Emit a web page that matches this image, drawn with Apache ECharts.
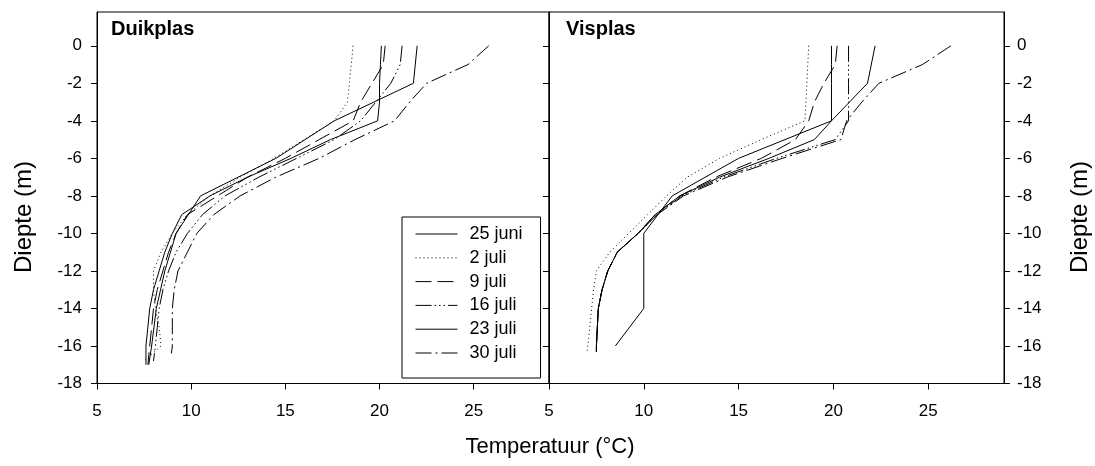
<!DOCTYPE html>
<html>
<head>
<meta charset="utf-8">
<script src="https://cdn.jsdelivr.net/npm/echarts@6.0.0/dist/echarts.min.js"></script>
<style>
html,body{margin:0;padding:0;background:#fff;}
#c{width:1095px;height:466px;}
</style>
</head>
<body>
<div id="c"></div>
<script>
// ---- tick labels ----
const xTicks = [5, 10, 15, 20, 25];
const yTicks = [0, -2, -4, -6, -8, -10, -12, -14, -16, -18];

// ---- series names ----
const dates = ['25 juni', '2 juli', '9 juli', '16 juli', '23 juli', '30 juli'];

// ---- Duikplas (depth m, temperature °C) ----
const duik25junD = [0, -2, -4, -6, -8, -10, -12, -14, -16, -17];
const duik25junT = [22.0, 21.8, 17.6, 14.5, 10.5, 9.2, 8.6, 8.15, 7.9, 7.75];

const duik2julD = [0, -1, -2, -3, -4, -5, -6, -7, -8, -9, -10, -11, -12, -13, -14, -15, -16, -16.8];
const duik2julT = [18.6, 18.5, 18.4, 18.3, 17.6, 16.0, 14.4, 12.6, 11.0, 9.8, 9.0, 8.4, 8.0, 8.0, 8.1, 8.3, 8.4, 7.5];

const duik9julD = [0, -1, -2, -3, -4, -5, -6, -7, -8, -9, -10, -11, -12, -13, -14, -15, -16, -17];
const duik9julT = [20.3, 20.2, 19.6, 19.0, 18.6, 16.8, 15.0, 13.0, 11.4, 9.8, 9.2, 8.8, 8.5, 8.2, 8.0, 7.9, 7.8, 7.7];

const duik16julD = [0, -1, -2, -3, -4, -5, -6, -7, -8, -9, -10, -11, -12, -13, -14, -15, -16, -16.8];
const duik16julT = [21.2, 21.1, 20.6, 19.8, 19.0, 17.6, 15.6, 13.6, 11.8, 10.6, 9.8, 9.2, 8.8, 8.5, 8.3, 8.2, 8.1, 8.0];

const duik23julD = [0, -1, -2, -3, -4, -5, -6, -7, -8, -9, -10, -11, -12, -13, -14, -15, -16, -17];
const duik23julT = [20.1, 20.05, 20.0, 20.0, 19.9, 17.4, 15.3, 13.0, 11.0, 9.5, 9.0, 8.6, 8.3, 8.0, 7.8, 7.7, 7.6, 7.6];

const duik30julD = [0, -1, -2, -3, -4, -5, -6, -7, -8, -9, -10, -11, -12, -13, -14, -15, -16, -16.4];
const duik30julT = [25.8, 24.7, 22.5, 21.6, 20.8, 18.7, 16.8, 14.5, 12.6, 11.2, 10.3, 9.8, 9.3, 9.1, 9.0, 9.0, 9.0, 8.95];

// ---- Visplas ----
const vis25junD = [0, -2, -4, -6, -8, -10, -12, -14, -16];
const vis25junT = [22.2, 21.8, 19.9, 15.0, 11.5, 10.0, 10.0, 10.0, 8.5];

const vis2julD = [0, -1, -2, -3, -4, -5, -6, -7, -8, -9, -10, -11, -12, -13, -14, -15, -16, -16.3];
const vis2julT = [18.7, 18.65, 18.6, 18.55, 18.5, 16.2, 14.0, 12.3, 11.2, 10.2, 9.2, 8.2, 7.5, 7.35, 7.25, 7.15, 7.05, 7.0];

const vis9julD = [0, -1, -2, -3, -4, -5, -6, -7, -8, -9, -10, -11, -12, -13, -14, -15, -16, -16.3];
const vis9julT = [20.2, 20.1, 19.5, 19.0, 18.7, 18.0, 16.2, 13.8, 11.9, 10.6, 9.7, 8.6, 8.1, 7.8, 7.6, 7.55, 7.5, 7.5];

const vis16julD = [0, -1, -2, -3, -4, -5, -6, -7, -8, -9, -10, -11, -12, -13, -14, -15, -16, -16.3];
const vis16julT = [20.8, 20.8, 20.8, 20.8, 20.8, 20.1, 17.0, 14.2, 12.0, 10.7, 9.7, 8.6, 8.1, 7.8, 7.6, 7.55, 7.5, 7.5];

const vis23julD = [0, -1, -2, -3, -4, -5, -6, -7, -8, -9, -10, -11, -12, -13, -14, -15, -16, -16.3];
const vis23julT = [19.9, 19.9, 19.9, 19.9, 19.9, 19.0, 16.6, 14.0, 11.9, 10.6, 9.7, 8.6, 8.1, 7.8, 7.6, 7.55, 7.5, 7.5];

const vis30julD = [0, -1, -2, -3, -4, -5, -6, -7, -8, -9, -10, -11, -12, -13, -14, -15, -16, -16.3];
const vis30julT = [26.2, 24.7, 22.4, 21.5, 20.7, 20.4, 17.3, 14.4, 12.1, 10.7, 9.7, 8.6, 8.1, 7.8, 7.6, 7.55, 7.5, 7.5];

// ---- styles ----
const dashPatterns = ['solid', [1, 3], [16, 6], [16, 3, 1.5, 3, 1.5, 3, 1.5, 3], 'solid', [16, 4, 2, 4]];
const FONT = '"Liberation Sans", Arial, Helvetica, sans-serif';

const duikSets = [[duik25junT, duik25junD], [duik2julT, duik2julD], [duik9julT, duik9julD],
                  [duik16julT, duik16julD], [duik23julT, duik23julD], [duik30julT, duik30julD]];
const visSets = [[vis25junT, vis25junD], [vis2julT, vis2julD], [vis9julT, vis9julD],
                 [vis16julT, vis16julD], [vis23julT, vis23julD], [vis30julT, vis30julD]];

function pairs(T, D) { return T.map((t, i) => [t, D[i]]); }

const series = [];
duikSets.forEach((s, i) => {
  series.push({
    name: dates[i], type: 'line', xAxisIndex: 0, yAxisIndex: 0,
    data: pairs(s[0], s[1]), symbol: 'none', showSymbol: false,
    color: '#000', itemStyle: { color: '#000' },
    lineStyle: { color: '#000', width: 1, type: dashPatterns[i] },
    animation: false, silent: true
  });
});
visSets.forEach((s, i) => {
  series.push({
    name: dates[i], type: 'line', xAxisIndex: 1, yAxisIndex: 1,
    data: pairs(s[0], s[1]), symbol: 'none', showSymbol: false,
    color: '#000', itemStyle: { color: '#000' },
    lineStyle: { color: '#000', width: 1, type: dashPatterns[i] },
    animation: false, silent: true
  });
});

function xAx(gi) {
  return {
    type: 'value', gridIndex: gi, min: 5, max: 29, interval: 5,
    axisLine: { show: true, onZero: false, lineStyle: { color: '#000', width: 1 } },
    axisTick: { show: true, inside: false, length: 6, customValues: xTicks, lineStyle: { color: '#000' } },
    axisLabel: { show: true, customValues: xTicks, color: '#000', fontSize: 17, fontFamily: FONT, margin: 19 },
    splitLine: { show: false }
  };
}
function yAx(gi, pos, labels, margin) {
  return {
    type: 'value', gridIndex: gi, position: pos, min: -18, max: 1.8, interval: 2,
    axisLine: { show: true, onZero: false, lineStyle: { color: '#000', width: 1 } },
    axisTick: { show: true, inside: false, length: 6, customValues: yTicks, lineStyle: { color: '#000' } },
    axisLabel: { show: labels, customValues: yTicks, color: '#000', fontSize: 17, fontFamily: FONT, margin: margin },
    splitLine: { show: false }
  };
}

const chart = echarts.init(document.getElementById('c'), null, { renderer: 'canvas' });
chart.setOption({
  backgroundColor: '#fff',
  animation: false,
  textStyle: { fontFamily: FONT },
  grid: [
    { left: 97, top: 12, width: 452, height: 371.5, show: true, borderColor: '#000', borderWidth: 1, backgroundColor: 'transparent' },
    { left: 549, top: 12, width: 455, height: 371.5, show: true, borderColor: '#000', borderWidth: 1, backgroundColor: 'transparent' }
  ],
  xAxis: [xAx(0), xAx(1)],
  yAxis: [yAx(0, 'left', true, 15), yAx(1, 'right', true, 13), yAx(1, 'left', false, 8)],
  legend: {
    data: dates, orient: 'vertical', left: 402, top: 217,
    itemWidth: 42, itemHeight: 14, itemGap: 5.8,
    padding: [8, 18, 16, 13],
    borderColor: '#000', borderWidth: 1, borderRadius: 0, backgroundColor: '#fff',
    selectedMode: false,
    itemStyle: { opacity: 0, borderWidth: 0, color: 'rgba(0,0,0,0)' },
    lineStyle: { width: 1, color: '#000' },
    textStyle: { color: '#000', fontSize: 18, fontFamily: FONT, padding: [0, 0, 0, 7] }
  },
  graphic: [
    { type: 'text', left: 111, top: 19, style: { text: 'Duikplas', font: 'bold 20px ' + FONT, fill: '#000' } },
    { type: 'text', left: 566, top: 19, style: { text: 'Visplas', font: 'bold 20px ' + FONT, fill: '#000' } },
    { type: 'text', x: 24, y: 217, rotation: Math.PI / 2,
      style: { text: 'Diepte (m)', font: '24px ' + FONT, fill: '#000', align: 'center', verticalAlign: 'middle' } },
    { type: 'text', x: 1080, y: 217, rotation: Math.PI / 2,
      style: { text: 'Diepte (m)', font: '24px ' + FONT, fill: '#000', align: 'center', verticalAlign: 'middle' } },
    { type: 'text', x: 550, y: 447,
      style: { text: 'Temperatuur (°C)', font: '22px ' + FONT, fill: '#000', align: 'center', verticalAlign: 'middle' } }
  ],
  series: series
});
</script>
</body>
</html>
